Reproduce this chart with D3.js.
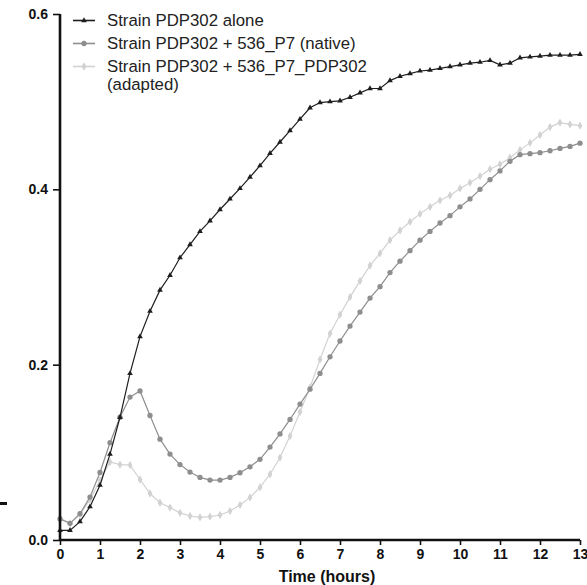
<!DOCTYPE html>
<html>
<head>
<meta charset="utf-8">
<script src="https://cdn.jsdelivr.net/npm/d3@7"></script>
<style>
  body { margin: 0; background: #fff; }
  svg text { font-family: Arial, "Liberation Sans", sans-serif; }
</style>
</head>
<body>
<div id="chart"></div>
<script>
//Declare datasets
var hours = [0, 0.25, 0.5, 0.75, 1, 1.25, 1.5, 1.75, 2, 2.25, 2.5, 2.75, 3, 3.25, 3.5, 3.75,
  4, 4.25, 4.5, 4.75, 5, 5.25, 5.5, 5.75, 6, 6.25, 6.5, 6.75, 7, 7.25, 7.5, 7.75,
  8, 8.25, 8.5, 8.75, 9, 9.25, 9.5, 9.75, 10, 10.25, 10.5, 10.75, 11, 11.25, 11.5, 11.75,
  12, 12.25, 12.5, 12.75, 13];

var aloneValues = [0.011, 0.011, 0.021, 0.038, 0.0625, 0.098, 0.140, 0.190, 0.232, 0.261, 0.285, 0.302, 0.322, 0.337, 0.352, 0.364,
  0.377, 0.389, 0.401, 0.414, 0.427, 0.441, 0.454, 0.467, 0.480, 0.493, 0.499, 0.500, 0.501, 0.505, 0.510, 0.515,
  0.515, 0.524, 0.529, 0.532, 0.535, 0.536, 0.538, 0.540, 0.542, 0.544, 0.545, 0.547, 0.542, 0.544, 0.550, 0.551,
  0.552, 0.553, 0.553, 0.553, 0.554];

var nativeValues = [0.024, 0.019, 0.030, 0.049, 0.077, 0.111, 0.140, 0.163, 0.170, 0.142, 0.115, 0.098, 0.086, 0.0775, 0.0714, 0.0684,
  0.0684, 0.0714, 0.0767, 0.0835, 0.092, 0.106, 0.121, 0.1375, 0.155, 0.172, 0.190, 0.209, 0.227, 0.244, 0.260, 0.276,
  0.289, 0.305, 0.318, 0.330, 0.342, 0.352, 0.3616, 0.370, 0.380, 0.389, 0.400, 0.411, 0.421, 0.432, 0.4395, 0.4407,
  0.4418, 0.444, 0.4467, 0.449, 0.4527];

var adaptedValues = [0.025, 0.019, 0.029, 0.046, 0.068, 0.089, 0.086, 0.0855, 0.069, 0.053, 0.0425, 0.037, 0.031, 0.0274, 0.0259, 0.0266,
  0.0285, 0.033, 0.040, 0.0486, 0.060, 0.075, 0.094, 0.1185, 0.146, 0.174, 0.206, 0.2355, 0.257, 0.277, 0.2955, 0.313,
  0.327, 0.342, 0.353, 0.363, 0.372, 0.380, 0.3875, 0.393, 0.401, 0.4076, 0.415, 0.423, 0.4285, 0.436, 0.445, 0.453,
  0.462, 0.471, 0.476, 0.474, 0.4726];

var seriesNames = ["Strain PDP302 alone", "Strain PDP302 + 536_P7 (native)", "Strain PDP302 + 536_P7_PDP302"];
var xTicks = [0, 1, 2, 3, 4, 5, 6, 7, 8, 9, 10, 11, 12, 13];
var yTicks = [0, 0.2, 0.4, 0.6];

function init() {
  //Declare variables
  var w = 587;
  var h = 585;
  var left = 60, right = 580, top = 14, bottom = 540;

  var xScale = d3.scaleLinear()
    .domain([0, 13])
    .range([left, right]);

  var yScale = d3.scaleLinear()
    .domain([0, 0.6])
    .range([bottom, top]);

  var svg = d3.select("#chart")
    .append("svg")
    .attr("width", w)
    .attr("height", h);

  var series = [
    { name: seriesNames[0], values: aloneValues, color: "#1e1e1e", symbol: d3.symbolTriangle, size: 14 },
    { name: seriesNames[1], values: nativeValues, color: "#8e8e8e", symbol: d3.symbolCircle, size: 22 },
    { name: seriesNames[2], values: adaptedValues, color: "#d2d2d2", symbol: d3.symbolDiamond, size: 20 }
  ];

  var line = d3.line()
    .x(function (d) { return xScale(d[0]); })
    .y(function (d) { return yScale(d[1]); });

  //draw light first so the black one sits on top
  series.slice().reverse().forEach(function (s) {
    var pts = hours.map(function (t, i) { return [t, s.values[i]]; });

    svg.append("path")
      .datum(pts)
      .attr("fill", "none")
      .attr("stroke", s.color)
      .attr("stroke-width", 1.2)
      .attr("d", line);

    svg.selectAll(null)
      .data(pts)
      .enter()
      .append("path")
      .attr("d", d3.symbol().type(s.symbol).size(s.size))
      .attr("transform", function (d) {
        return "translate(" + xScale(d[0]) + "," + yScale(d[1]) + ")";
      })
      .attr("fill", s.color);
  });

  //Axes
  var xAxis = d3.axisBottom(xScale)
    .tickValues(xTicks)
    .tickSize(5)
    .tickPadding(4)
    .tickFormat(d3.format("d"));

  var yAxis = d3.axisLeft(yScale)
    .tickValues(yTicks)
    .tickSize(7)
    .tickPadding(5)
    .tickFormat(d3.format(".1f"));

  var gx = svg.append("g")
    .attr("transform", "translate(0," + bottom + ")")
    .call(xAxis);

  var gy = svg.append("g")
    .attr("transform", "translate(" + left + ",0)")
    .call(yAxis);

  [gx, gy].forEach(function (g) {
    g.select(".domain").attr("stroke", "#111").attr("stroke-width", 2.6);
    g.selectAll(".tick line").attr("stroke", "#111").attr("stroke-width", 1.6);
    g.selectAll(".tick text")
      .attr("fill", "#111")
      .attr("font-size", "14px")
      .attr("font-weight", "bold")
      .style("font-family", "Arial, 'Liberation Sans', sans-serif");
  });
  gx.select(".domain").attr("d", "M" + left + ",0H" + right);
  gy.select(".domain").attr("d", "M0," + top + "V" + bottom);

  svg.append("text")
    .attr("x", 327)
    .attr("y", 582)
    .attr("text-anchor", "middle")
    .attr("font-size", "16px")
    .attr("font-weight", "bold")
    .attr("fill", "#111")
    .text("Time (hours)");

  //stray mark at the left edge of the original figure
  svg.append("rect")
    .attr("x", 0)
    .attr("y", 502)
    .attr("width", 7)
    .attr("height", 3)
    .attr("fill", "#111");

  //Legend
  var legendY = [20.5, 43.5, 66.5];
  series.forEach(function (s, i) {
    var g = svg.append("g")
      .attr("transform", "translate(0," + legendY[i] + ")");
    g.append("line")
      .attr("x1", 73).attr("x2", 95)
      .attr("y1", 0).attr("y2", 0)
      .attr("stroke", s.color)
      .attr("stroke-width", 1.6);
    g.append("path")
      .attr("d", d3.symbol().type(s.symbol).size(s.size))
      .attr("transform", "translate(84,0)")
      .attr("fill", s.color);
    g.append("text")
      .attr("x", 107)
      .attr("y", 5.8)
      .attr("font-size", "16.8px")
      .attr("fill", "#222")
      .text(s.name);
  });
  svg.append("text")
    .attr("x", 107)
    .attr("y", 90)
    .attr("font-size", "16.8px")
    .attr("fill", "#222")
    .text("(adapted)");
}

window.onload = init;
</script>
</body>
</html>
